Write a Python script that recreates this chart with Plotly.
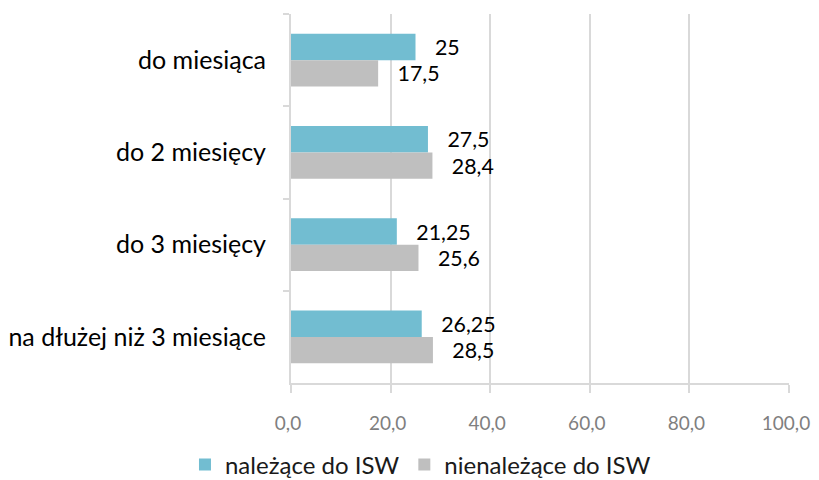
import plotly.graph_objects as go

categories = ["do miesiąca", "do 2 miesięcy", "do 3 miesięcy", "na dłużej niż 3 miesiące"]
isw_name = "należące do ISW"
non_isw_name = "nienależące do ISW"
isw_values = [25, 27.5, 21.25, 26.25]
non_isw_values = [17.5, 28.4, 25.6, 28.5]
x_ticks = [0, 20, 40, 60, 80, 100]

FONT = "Lato, Carlito, Calibri, sans-serif"
PAD = "\u00a0\u00a0\u00a0"

fig = go.Figure()
for name, vals, color in [(isw_name, isw_values, "#72BDD1"),
                          (non_isw_name, non_isw_values, "#BFBFBF")]:
    fig.add_trace(go.Bar(
        name=name, y=categories, x=vals, orientation="h",
        marker=dict(color=color, line=dict(width=0)),
        texttemplate=PAD + "%{x:.4~f}", textposition="outside",
        textfont=dict(family=FONT, size=26, color="#000000"),
        cliponaxis=False,
    ))

# page body adds an 8px offset, so the figure is 8px smaller
fig.update_layout(
    width=811, height=472,
    margin=dict(l=283, r=30, t=6, b=97, autoexpand=False),
    paper_bgcolor="white", plot_bgcolor="white",
    barmode="group", bargap=0.43, bargroupgap=0,
    separators=", ",
    font=dict(family=FONT, size=24, color="#000000"),
    showlegend=True,
    legend=dict(orientation="h", x=0.26, xanchor="center",
                y=-0.222, yanchor="middle", font=dict(size=24, color="#1a1a1a"),
                traceorder="normal"),
)
fig.update_xaxes(
    range=[0, 100], tickvals=x_ticks, tickformat=".1f",
    showgrid=True, gridcolor="#D9D9D9", gridwidth=2,
    showline=True, linecolor="#D9D9D9", linewidth=2,
    ticks="outside", ticklen=8, tickcolor="#D9D9D9", tickwidth=2,
    tickfont=dict(family=FONT, size=19, color="#7F7F7F"), zeroline=False,
    ticklabelstandoff=14, ticklabelshift=-3,
)
fig.update_yaxes(
    autorange="reversed", showline=True, linecolor="#D9D9D9", linewidth=2,
    ticks="outside", tickson="boundaries", ticklen=6, tickcolor="#D9D9D9", tickwidth=2,
    tickfont=dict(size=25, color="#000000"), ticklabelstandoff=18,
)

fig.write_html("out.html")
